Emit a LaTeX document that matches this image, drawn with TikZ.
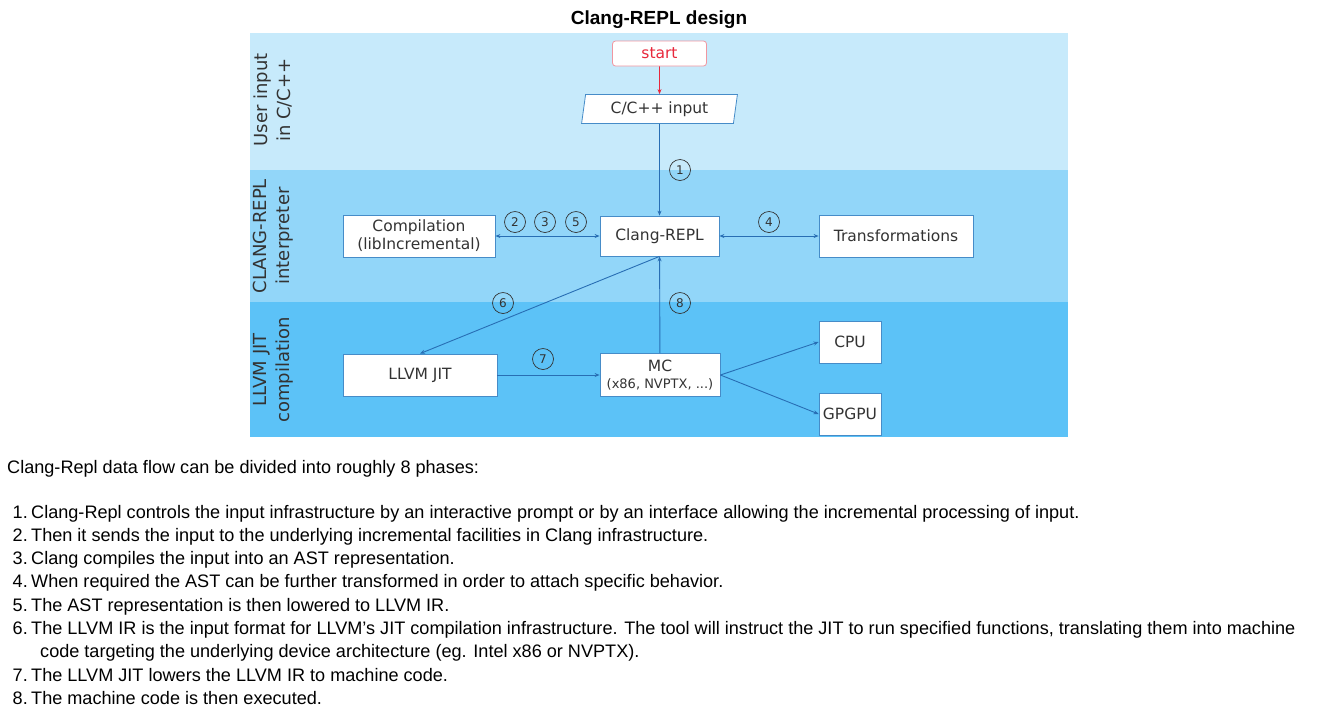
\documentclass[tikz,border=0pt]{standalone}
\usepackage{fontspec}
\setmainfont{Liberation Sans}
\newfontfamily\diag{DejaVu Sans}
\usetikzlibrary{shapes.geometric,arrows.meta}
\definecolor{bandA}{RGB}{199,234,251}
\definecolor{bandB}{RGB}{146,214,249}
\definecolor{bandC}{RGB}{92,194,247}
\definecolor{boxline}{RGB}{70,140,200}
\definecolor{arr}{RGB}{40,110,180}
\definecolor{txt}{RGB}{51,51,51}
\definecolor{startred}{RGB}{232,40,60}
\definecolor{startline}{RGB}{240,150,160}
\tikzset{
  box/.style={draw=boxline, fill=white, line width=0.8, font=\diag\fontsize{15.5}{18}\selectfont, text=txt, inner sep=0, align=center},
  num/.style={circle, draw=black!80, line width=0.7, minimum size=21, inner sep=0, font=\diag\fontsize{12}{12}\selectfont, text=txt},
  conn/.style={draw=arr, line width=0.9, -{Stealth[length=5,width=4]}},
  both/.style={draw=arr, line width=0.9, {Stealth[length=5,width=4]}-{Stealth[length=5,width=4]}},
  lane/.style={rotate=90, align=center, font=\diag\fontsize{18}{23}\selectfont, text=txt},
  desc/.style={anchor=base west, inner sep=0, font=\fontsize{18.1}{20}\selectfont, text=black},
  dnum/.style={anchor=base east, inner sep=0, font=\fontsize{18.1}{20}\selectfont, text=black},
}
\begin{document}
\begin{tikzpicture}[x=1pt,y=-1pt]
\useasboundingbox (0,0) rectangle (1319,716);
\fill[white] (0,0) rectangle (1319,716);
% bands
\fill[bandA] (250,33) rectangle (1068,170);
\fill[bandB] (250,170) rectangle (1068,302);
\fill[bandC] (250,302) rectangle (1068,437);
% title
\node[font=\bfseries\fontsize{19}{22}\selectfont] (title) at (659,20) {Clang-REPL design};
% lane labels
\node[lane] (laneA) at (273,100) {User input\\in C/C++};
\node[lane] (laneB) at (273,236) {CLANG-REPL\\interpreter};
\node[lane] (laneC) at (273,370) {LLVM JIT\\compilation};
% nodes
\node[box, draw=startline, text=startred, rounded corners=3, minimum width=94, minimum height=25] (start) at (659.5,53.5) {start};
\node[box, trapezium, trapezium left angle=80, trapezium right angle=100, trapezium stretches=true, minimum width=156, minimum height=29] (input) at (659.5,109) {C/C++ input};
\node[box, minimum width=119, minimum height=40] (repl) at (659.5,236) {Clang-REPL};
\node[box, minimum width=152, minimum height=42] (comp) at (419,236) {Compilation\\(libIncremental)};
\node[box, minimum width=154, minimum height=42] (trans) at (896,236) {Transformations};
\node[box, minimum width=154, minimum height=42] (jit) at (420,375) {LLVM JIT};
\node[box, minimum width=120, minimum height=43] (mc) at (660,375) {MC\\[-1pt]{\fontsize{13}{15}\selectfont(x86, NVPTX, ...)}};
\node[box, minimum width=62, minimum height=42] (cpu) at (850,342) {CPU};
\node[box, minimum width=62, minimum height=42] (gpgpu) at (850,414) {GPGPU};
% connectors
\draw[conn, draw=startred] (start) -- (input);
\draw[conn] (input) -- (repl);
\draw[both] (comp) -- (repl);
\draw[both] (repl) -- (trans);
\draw[conn] (repl.south) -- (jit.north);
\draw[conn] (mc) -- (repl);
\draw[conn] (jit) -- (mc);
\draw[conn] (mc.east) -- (cpu.west);
\draw[conn] (mc.east) -- (gpgpu.west);
% numbers
\node[num] (n1) at (680,170) {1};
\node[num] (n2) at (515,222) {2};
\node[num] (n3) at (545,222) {3};
\node[num] (n5) at (576,222) {5};
\node[num] (n4) at (769,222) {4};
\node[num] (n6) at (503,303) {6};
\node[num] (n8) at (680,303) {8};
\node[num] (n7) at (543,359) {7};
% description
\node[desc] (d0) at (7,473) {Clang-Repl data flow can be divided into roughly 8 phases:};
\node[dnum] (k1) at (28,518) {1.};
\node[desc] (d1) at (31,518) {Clang-Repl controls the input infrastructure by an interactive prompt or by an interface allowing the incremental processing of input.};
\node[dnum] (k2) at (28,541) {2.};
\node[desc] (d2) at (31,541) {Then it sends the input to the underlying incremental facilities in Clang infrastructure.};
\node[dnum] (k3) at (28,564) {3.};
\node[desc] (d3) at (31,564) {Clang compiles the input into an AST representation.};
\node[dnum] (k4) at (28,587) {4.};
\node[desc] (d4) at (31,587) {When required the AST can be further transformed in order to attach specific behavior.};
\node[dnum] (k5) at (28,611) {5.};
\node[desc] (d5) at (31,611) {The AST representation is then lowered to LLVM IR.};
\node[dnum] (k6) at (28,634) {6.};
\node[desc] (d6) at (31,634) {The LLVM IR is the input format for LLVM’s JIT compilation infrastructure. The tool will instruct the JIT to run specified functions, translating them into machine};
\node[desc] (d6b) at (40,657) {code targeting the underlying device architecture (eg. Intel x86 or NVPTX).};
\node[dnum] (k7) at (28,681) {7.};
\node[desc] (d7) at (31,681) {The LLVM JIT lowers the LLVM IR to machine code.};
\node[dnum] (k8) at (28,704) {8.};
\node[desc] (d8) at (31,704) {The machine code is then executed.};
\end{tikzpicture}
\end{document}
